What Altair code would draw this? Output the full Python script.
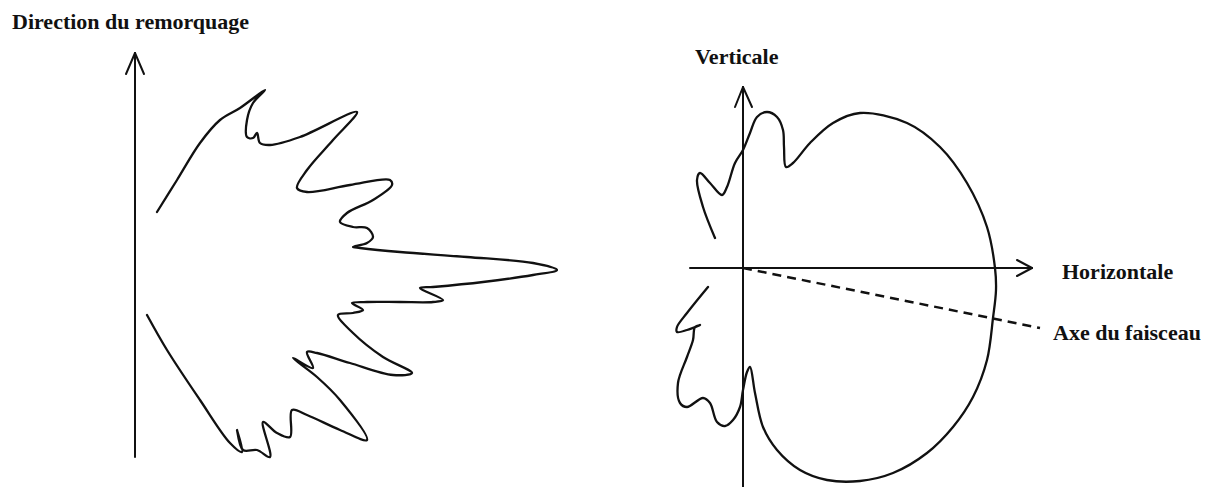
import altair as alt
import pandas as pd

# ---- shapes (image pixel coordinates) ----
left_lobe_x = [157, 177, 200, 220, 240, 265, 253, 247, 247, 253, 257, 260, 270, 300, 357,
               333, 307, 297, 307, 350, 390, 392, 373, 347, 340, 353, 367, 373, 367, 353,
               360, 400, 467, 533, 557, 533, 483, 433, 420, 443, 433, 400, 367, 352, 363,
               353, 338, 353, 383, 412, 393, 350, 317, 307, 313, 293, 317, 340, 367, 340,
               307, 292, 290, 277, 263, 270, 257, 243, 237, 242, 230, 200, 167, 147]
left_lobe_y = [212, 180, 143, 120, 108, 90, 103, 120, 137, 138, 133, 143, 145, 137, 112,
               140, 170, 188, 192, 185, 180, 185, 200, 213, 222, 227, 228, 237, 243, 247,
               248, 252, 257, 263, 270, 275, 282, 287, 288, 300, 302, 302, 302, 303, 310,
               313, 315, 333, 357, 373, 375, 363, 353, 352, 368, 358, 377, 400, 440, 430,
               415, 410, 437, 433, 422, 457, 450, 450, 430, 452, 443, 400, 350, 315]

right_lobe_x = [715, 703, 697, 700, 710, 722, 727, 735, 743, 750, 757, 767, 777, 783, 784,
                786, 793, 810, 833, 860, 907, 940, 967, 987, 995, 996, 993, 987, 973, 953,
                927, 893, 860, 827, 800, 777, 763, 755, 750, 747, 743, 740, 733, 725, 717,
                710, 703, 687, 680, 678, 687, 693, 695, 700, 687, 677, 677, 687, 708]
right_lobe_y = [238, 207, 180, 173, 183, 195, 187, 163, 150, 133, 117, 112, 117, 130, 147,
                167, 163, 143, 123, 113, 123, 147, 183, 227, 268, 290, 318, 360, 397, 427,
                453, 473, 481, 480, 470, 450, 427, 393, 367, 372, 390, 407, 420, 426, 422,
                403, 398, 407, 403, 383, 357, 340, 327, 325, 330, 332, 327, 313, 287]

# axes (x0, y0, x1, y1)
axis_segments = [
    (135, 457, 135, 53), (126, 74, 135, 53), (144, 74, 135, 53),      # towing direction
    (743, 487, 743, 87), (735, 107, 743, 87), (752, 107, 743, 87),    # vertical
    (690, 268, 1032, 268), (1017, 260, 1032, 268), (1017, 276, 1032, 268),  # horizontal
]
beam_axis = (743, 268, 1040, 328)

label_text = ["Direction du remorquage", "Verticale", "Horizontale", "Axe du faisceau"]
label_x = [12, 695, 1062, 1053]
label_y = [22, 57, 272, 333]

# ---- tables ----
rows = []
for i, (x, y) in enumerate(zip(left_lobe_x, left_lobe_y)):
    rows.append({"x": x, "y": y, "seg": "left", "o": i})
for i, (x, y) in enumerate(zip(right_lobe_x, right_lobe_y)):
    rows.append({"x": x, "y": y, "seg": "right", "o": i})
lobe_df = pd.DataFrame(rows)

arows = []
for k, (x0, y0, x1, y1) in enumerate(axis_segments):
    arows.append({"x": x0, "y": y0, "seg": f"a{k}", "o": 0})
    arows.append({"x": x1, "y": y1, "seg": f"a{k}", "o": 1})
axis_df = pd.DataFrame(arows)

dash_df = pd.DataFrame({"x": [beam_axis[0], beam_axis[2]], "y": [beam_axis[1], beam_axis[3]],
                        "o": [0, 1]})
lab_df = pd.DataFrame({"t": label_text, "x": label_x, "y": label_y})

W, H = 1194, 471
xs = alt.Scale(domain=[8, 8 + W], nice=False, zero=False)
ys = alt.Scale(domain=[8, 8 + H], nice=False, zero=False, reverse=True)
X = alt.X("x:Q", scale=xs, axis=None)
Y = alt.Y("y:Q", scale=ys, axis=None)

lobes = alt.Chart(lobe_df).mark_line(color="#111", strokeWidth=2.3, strokeCap="round",
                                     strokeJoin="round", interpolate="catmull-rom").encode(
    x=X, y=Y, detail="seg:N", order="o:Q")

axes = alt.Chart(axis_df).mark_line(color="#111", strokeWidth=2, strokeCap="round",
                                    strokeJoin="round").encode(
    x=X, y=Y, detail="seg:N", order="o:Q")

dashed = alt.Chart(dash_df).mark_line(color="#111", strokeWidth=2.5,
                                      strokeDash=[9, 6]).encode(x=X, y=Y, order="o:Q")

labels = alt.Chart(lab_df).mark_text(align="left", baseline="middle", font="Liberation Serif",
                                     fontWeight="bold", fontSize=22, color="#111").encode(
    x=X, y=Y, text="t:N")

chart = alt.layer(lobes, axes, dashed, labels).properties(
    width=W, height=H, padding=0, background="white"
).configure_view(stroke=None)

chart.save("out.html", embed_options={"renderer": "svg", "actions": False})
